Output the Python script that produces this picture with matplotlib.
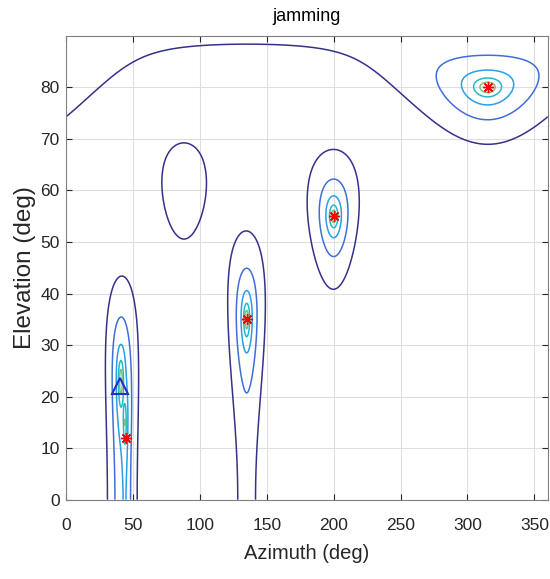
import numpy as np
import matplotlib.pyplot as plt

plt.rcParams['font.family'] = ['Liberation Sans', 'DejaVu Sans']

# peaks of the spatial spectrum (az, el in deg), amplitude, floor
peak_az = [41, 44, 135, 135, 200, 315, 88]
peak_el = [23, 15, 35, 2, 55, 80, 60]
peak_amp = [0.85, 0.32, 1.05, 0.12, 1.0, 1.0, 0.72]
peak_floor = [0.004, 0.01, 0.004, 0.08, 0.004, 0.004, 0.1]

# true jammer directions (red asterisks) and estimate (triangle)
true_az = [45, 135, 200, 315]
true_el = [12, 35, 55, 80]
est_az = [40]
est_el = [22]

levels = [1.53, 1.97, 2.48, 3.0, 3.5]
level_colors = ['#35328a', '#3f6fd6', '#2a9ee6', '#25b8c8', '#7cc47a']

az = np.linspace(0, 360, 721)
el = np.linspace(0, 90, 361)
AZ, EL = np.meshgrid(az, el)


def uv(a, e):
    a, e = np.radians(a), np.radians(e)
    return np.cos(e) * np.cos(a), np.cos(e) * np.sin(a)


U, V = uv(AZ, EL)
P = np.zeros_like(U)
for a, e, amp, fl in zip(peak_az, peak_el, peak_amp, peak_floor):
    pu, pv = uv(a, e)
    P += amp / ((U - pu) ** 2 + (V - pv) ** 2 + fl ** 2)
Z = np.log10(P)

fig = plt.figure(figsize=(5.5, 5.79), dpi=100)
ax = fig.add_axes([0.12, 0.137, 0.876, 0.801])
ax.contour(AZ, EL, Z, levels=levels, colors=level_colors, linewidths=1.1)
ax.plot(true_az, true_el, linestyle='none', marker=(8, 2, 0), color='red',
        markersize=8, markeredgewidth=1.0)
ax.plot(est_az, est_el, linestyle='none', marker='^', markerfacecolor='none',
        markeredgecolor='#1f2fd0', markersize=11, markeredgewidth=1.5)

ax.set_xlim(0, 360)
ax.set_ylim(0, 90)
ax.set_xticks(np.arange(0, 351, 50))
ax.set_yticks(np.arange(0, 81, 10))
ax.grid(True, color='#dedede', linewidth=0.8)
ax.set_axisbelow(True)
ax.tick_params(direction='in', colors='#262626', labelsize=12.5, length=4,
               top=True, right=True, labeltop=False, labelright=False)
ax.tick_params(axis='x', pad=13)
ax.tick_params(axis='y', pad=4.5)
for s in ax.spines.values():
    s.set_color('#808080')
ax.set_xlabel('Azimuth (deg)', fontsize=14.5, color='#262626', labelpad=8)
ax.set_ylabel('Elevation (deg)', fontsize=17.5, color='#262626', labelpad=3)
ax.set_title('jamming', fontsize=13, pad=11)

fig.savefig('out.png', dpi=100)
